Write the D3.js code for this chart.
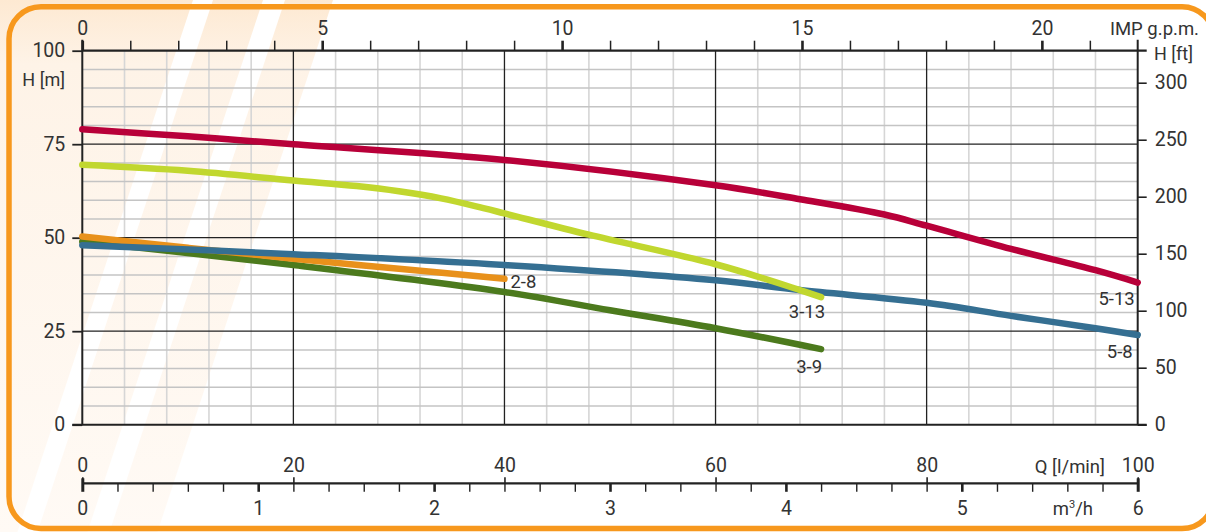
<!DOCTYPE html>
<html>
<head>
<meta charset="utf-8">
<script src="https://cdn.jsdelivr.net/npm/d3@7"></script>
<style>
  html, body { margin: 0; padding: 0; background: #fff; }
  svg { display: block; font-family: Roboto, "Liberation Sans", sans-serif; }
</style>
</head>
<body>
<script>
// courbes : Q en l/min, H en m
const q513 = [0, 10, 20, 40, 60, 68, 76, 80, 88, 96, 100];
const h513 = [79, 77.1, 75, 70.8, 64, 60.3, 56.2, 53.2, 47, 41.3, 38];

const q313 = [0, 10, 20, 26, 30, 34, 38, 40, 48, 60, 68, 70];
const h313 = [69.5, 67.9, 65.3, 63.8, 62.4, 60.5, 57.9, 56.5, 50.8, 42.9, 36, 34.1];

const q58 = [0, 20, 40, 60, 68, 80, 88, 96, 100];
const h58 = [48, 45.6, 42.7, 38.6, 36, 32.6, 29.1, 25.8, 24];

const q28 = [0, 10, 20, 30, 40];
const h28 = [50.3, 47.3, 44.4, 41.7, 39];

const q39 = [0, 20, 40, 50, 60, 70];
const h39 = [49, 42.7, 35.5, 30.6, 25.8, 20.2];

const seriesNames = ["3-9", "2-8", "5-8", "3-13", "5-13"];

const hTicks = [0, 25, 50, 75, 100];
const ftTicks = [0, 50, 100, 150, 200, 250, 300];
const lminTicks = [0, 20, 40, 60, 80, 100];
const gpmLabels = [0, 5, 10, 15, 20];

const W = 1206, H = 532;
const svg = d3.select("body").append("svg").attr("width", W).attr("height", H);

const pLeft = 82.3, pRight = 1137.7, pTop = 50.7, pBottom = 424.7;

const x = d3.scaleLinear().domain([0, 100]).range([pLeft, pRight]);
const y = d3.scaleLinear().domain([0, 100]).range([pBottom, pTop]);
const gpm = d3.scaleLinear().domain([0, 100 / 4.546]).range([pLeft, pRight]);
const m3h = d3.scaleLinear().domain([0, 6]).range([pLeft, pRight]);
const ft = d3.scaleLinear().domain([0, 100 / 0.3048]).range([pBottom, pTop]);

const textCol = "#333";
const fs = 19.5;

// fond : bandes obliques orange très pâle
const defs = svg.append("defs");
const grad = defs.append("linearGradient").attr("id", "stripe")
  .attr("x1", 0).attr("y1", 0).attr("x2", 0).attr("y2", 1);
grad.append("stop").attr("offset", 0).attr("stop-color", "#fde9d2");
grad.append("stop").attr("offset", 0.12).attr("stop-color", "#fef3e7");
grad.append("stop").attr("offset", 1).attr("stop-color", "#fffaf5");

const slope = 0.33;
[[-60, 193], [213, 263], [285, 333]].forEach(([a, b]) => {
  svg.append("path")
    .attr("d", `M${a},0L${b},0L${b - slope * H},${H}L${a - slope * H},${H}Z`)
    .attr("fill", "url(#stripe)");
});

// grille fine
const g = svg.append("g");
g.selectAll(".vmin").data(d3.range(4, 100, 4).filter(d => d % 20 !== 0)).enter()
  .append("line")
  .attr("x1", d => x(d)).attr("x2", d => x(d))
  .attr("y1", pTop).attr("y2", pBottom)
  .attr("stroke", "#d6d6d6").attr("stroke-width", 1.6);

g.selectAll(".hmin").data(d3.range(5, 100, 5).filter(d => d % 25 !== 0)).enter()
  .append("line")
  .attr("x1", pLeft).attr("x2", pRight)
  .attr("y1", d => y(d)).attr("y2", d => y(d))
  .attr("stroke", "#c4c4c4").attr("stroke-width", 1.5);

// grille principale
g.selectAll(".vmaj").data([20, 40, 60, 80]).enter()
  .append("line")
  .attr("x1", d => x(d)).attr("x2", d => x(d))
  .attr("y1", pTop).attr("y2", pBottom)
  .attr("stroke", "#222").attr("stroke-width", 1.3);

g.selectAll(".hmaj").data([25, 50, 75]).enter()
  .append("line")
  .attr("x1", pLeft).attr("x2", pRight)
  .attr("y1", d => y(d)).attr("y2", d => y(d))
  .attr("stroke", "#222").attr("stroke-width", 1.3);

// cadre du graphique
svg.append("line").attr("x1", pLeft).attr("x2", pRight + 9).attr("y1", pTop).attr("y2", pTop)
  .attr("stroke", "#222").attr("stroke-width", 2.2);
svg.append("line").attr("x1", pLeft - 10).attr("x2", pRight + 9).attr("y1", pBottom).attr("y2", pBottom)
  .attr("stroke", "#222").attr("stroke-width", 2);
svg.append("line").attr("x1", pLeft).attr("x2", pLeft).attr("y1", pTop - 11).attr("y2", pBottom)
  .attr("stroke", "#222").attr("stroke-width", 2);
svg.append("line").attr("x1", pRight).attr("x2", pRight).attr("y1", pTop - 11).attr("y2", pBottom)
  .attr("stroke", "#222").attr("stroke-width", 2);

function styleAxis(sel) {
  sel.select(".domain").remove();
  sel.selectAll("line").attr("stroke", "#222");
  sel.selectAll("text").attr("fill", textCol).style("font-size", fs + "px");
  sel.attr("font-family", null);
}

// axe gauche H [m]
svg.append("g").attr("transform", `translate(${pLeft},0)`)
  .call(d3.axisLeft(y).tickValues(hTicks).tickSize(10).tickPadding(7))
  .call(styleAxis)
  .selectAll("line").attr("stroke-width", 1.8);

svg.append("text").attr("x", 65).attr("y", 86).attr("text-anchor", "end")
  .attr("fill", textCol).style("font-size", "18px").text("H [m]");

// axe droit H [ft]
svg.append("g").attr("transform", `translate(${pRight},0)`)
  .call(d3.axisRight(ft).tickValues(ftTicks).tickSize(9).tickPadding(8))
  .call(styleAxis)
  .selectAll("line").attr("stroke-width", 1.6);

svg.append("text").attr("x", 1154).attr("y", 60)
  .attr("fill", textCol).style("font-size", "18px").text("H [ft]");

// axe du haut IMP g.p.m.
const topAx = svg.append("g").attr("transform", `translate(0,${pTop})`)
  .call(d3.axisTop(gpm).tickValues(d3.range(0, 22)).tickSize(10).tickPadding(6)
    .tickFormat(d => gpmLabels.includes(d) ? d : ""))
  .call(styleAxis);
topAx.selectAll(".tick line").attr("stroke-width", d => d % 5 === 0 ? 2.6 : 1.5);

svg.append("text").attr("x", 1199).attr("y", 35).attr("text-anchor", "end")
  .attr("fill", textCol).style("font-size", "18.5px").text("IMP g.p.m.");

// axes du bas : l/min et m³/h
const yq = 483.3;
svg.append("line").attr("x1", pLeft).attr("x2", pRight).attr("y1", yq).attr("y2", yq)
  .attr("stroke", "#222").attr("stroke-width", 2.2);

const lminAx = svg.append("g").attr("transform", `translate(0,${yq})`)
  .call(d3.axisTop(x).tickValues(lminTicks).tickSize(6).tickPadding(5))
  .call(styleAxis);
lminAx.selectAll(".tick line").attr("stroke-width", 1.6);

svg.append("text").attr("x", 1105).attr("y", 472.7).attr("text-anchor", "end")
  .attr("fill", textCol).style("font-size", "18.5px").text("Q [l/min]");

const m3Ax = svg.append("g").attr("transform", `translate(0,${yq})`)
  .call(d3.axisBottom(m3h).tickValues(d3.range(0, 31).map(i => i / 5)).tickSize(8.5).tickPadding(0)
    .tickFormat(d => Number.isInteger(d) ? d : ""))
  .call(styleAxis);
m3Ax.selectAll(".tick line").attr("stroke-width", d => Number.isInteger(d) ? 2.6 : 1.4);
m3Ax.selectAll(".tick text").attr("y", 31.7).attr("dy", 0);
m3Ax.selectAll(".tick").filter(d => d === 0 || d === 6).select("line")
  .attr("y1", -5).attr("stroke-width", 3);

svg.append("text").attr("x", 1093).attr("y", 515).attr("text-anchor", "end")
  .attr("fill", textCol).style("font-size", "18.5px")
  .html('m<tspan dy="-7" style="font-size:11px">3</tspan><tspan dy="7">/h</tspan>');

// courbes
const colors = { "5-13": "#b80039", "3-13": "#c1d72f", "5-8": "#356f92", "2-8": "#e8911b", "3-9": "#4c7a1d" };
const curveData = {
  "5-13": q513.map((q, i) => [q, h513[i]]),
  "3-13": q313.map((q, i) => [q, h313[i]]),
  "5-8": q58.map((q, i) => [q, h58[i]]),
  "2-8": q28.map((q, i) => [q, h28[i]]),
  "3-9": q39.map((q, i) => [q, h39[i]]),
};
// décalage des étiquettes par rapport au dernier point
const labelOff = {
  "5-13": [-3, 22, "end"], "3-13": [4, 21, "end"], "5-8": [-5, 23.5, "end"],
  "2-8": [6, 9.5, "start"], "3-9": [1, 24, "end"]
};

const line = d3.line().x(d => x(d[0])).y(d => y(d[1])).curve(d3.curveCatmullRom.alpha(0.5));

seriesNames.forEach(name => {
  svg.append("path").datum(curveData[name])
    .attr("d", line)
    .attr("fill", "none")
    .attr("stroke", colors[name])
    .attr("stroke-width", 6.5)
    .attr("stroke-linecap", "round");
});

seriesNames.forEach(name => {
  const last = curveData[name][curveData[name].length - 1];
  const o = labelOff[name];
  svg.append("text")
    .attr("x", x(last[0]) + o[0]).attr("y", y(last[1]) + o[1])
    .attr("text-anchor", o[2])
    .attr("fill", textCol).style("font-size", "18.5px")
    .text(name);
});

// bordure orange arrondie
svg.append("rect")
  .attr("x", 9).attr("y", 6.7).attr("width", 1205).attr("height", 521.8)
  .attr("rx", 32).attr("ry", 32)
  .attr("fill", "none").attr("stroke", "#f7981d").attr("stroke-width", 5.5);
</script>
</body>
</html>
